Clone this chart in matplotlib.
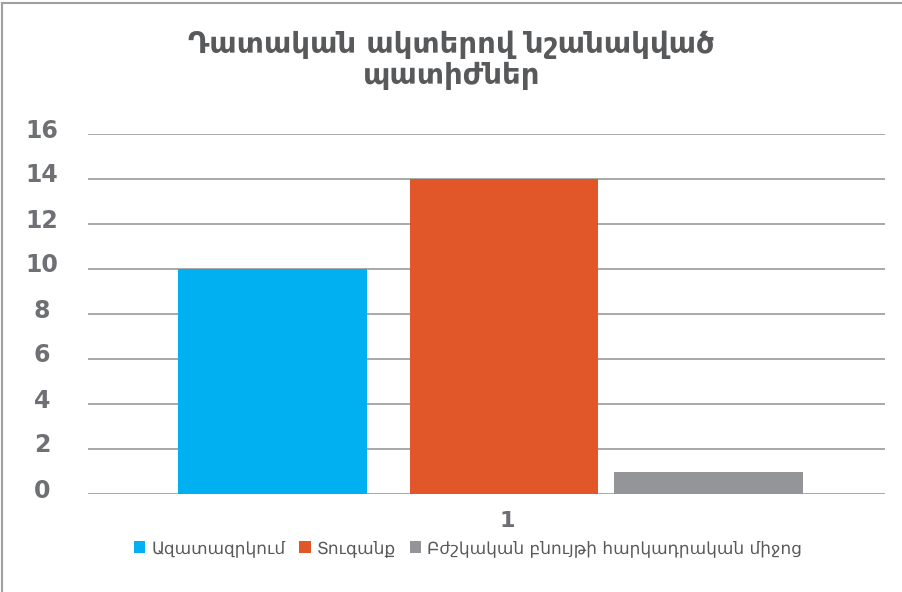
import matplotlib.pyplot as plt
from matplotlib.lines import Line2D
from matplotlib.transforms import ScaledTranslation

# -----------------------------
# DATA
# -----------------------------
chart_title = "Դատական ակտերով նշանակված\nպատիժներ"
category_labels = ["1"]
series_names = ["Ազատազրկում", "Տուգանք", "Բժշկական բնույթի հարկադրական միջոց"]
series_values = [10, 14, 1]
series_colors = ["#00B0F0", "#E2572A", "#939598"]
y_ticks = [0, 2, 4, 6, 8, 10, 12, 14, 16]

# bar layout inside the single category (offset from category center)
bar_offsets = [-0.2685, 0.022, 0.2785]
bar_width = 0.237
category_label_offset = 0.0257

plt.rcParams['font.family'] = ['DejaVu Sans']

# -----------------------------
# FIGURE
# -----------------------------
fig = plt.figure(figsize=(9.03, 5.92), dpi=100)
ax = fig.add_axes([88 / 903, 98 / 592, 797 / 903, 360 / 592])

for name, value, color, offset in zip(series_names, series_values, series_colors, bar_offsets):
    ax.bar(offset, value, width=bar_width, color=color, label=name, zorder=3)

ax.set_xlim(-0.5, 0.5)
ax.set_ylim(0, 16)

ax.set_yticks(y_ticks)
ax.yaxis.grid(True, color="#9a9a9a", linewidth=1.2, zorder=0)
ax.set_axisbelow(True)
for spine in ax.spines.values():
    spine.set_visible(False)
ax.tick_params(axis="y", length=0, pad=33, labelsize=17, labelcolor="#6f7073")
ax.tick_params(axis="x", length=0, pad=12, labelsize=16, labelcolor="#6d6e71")
for label in ax.get_yticklabels():
    label.set_fontweight("bold")
    label.set_horizontalalignment("center")
    label.set_transform(label.get_transform() + ScaledTranslation(0, 6 / 100, fig.dpi_scale_trans))

ax.set_xticks([category_label_offset])
ax.set_xticklabels(category_labels, fontweight="bold")

fig.text(0.5, 0.898, chart_title, ha="center", va="center", fontsize=21,
         fontweight="bold", color="#58595b", linespacing=1.12)

fig.legend(loc="center", bbox_to_anchor=(468 / 903, 1 - 548 / 592), ncol=3, frameon=False,
           fontsize=12.2, handlelength=0.7, handleheight=0.7, handletextpad=0.35,
           columnspacing=0.8, labelcolor="#595959")

# border on the visible edges
fig.add_artist(Line2D([2 / 903, 2 / 903], [0, 1 - 3 / 592], transform=fig.transFigure,
                      color="#a0a0a0", linewidth=1.5))
fig.add_artist(Line2D([2 / 903, 1], [1 - 3 / 592, 1 - 3 / 592], transform=fig.transFigure,
                      color="#a0a0a0", linewidth=1.5))

fig.savefig("out.png", dpi=100)
